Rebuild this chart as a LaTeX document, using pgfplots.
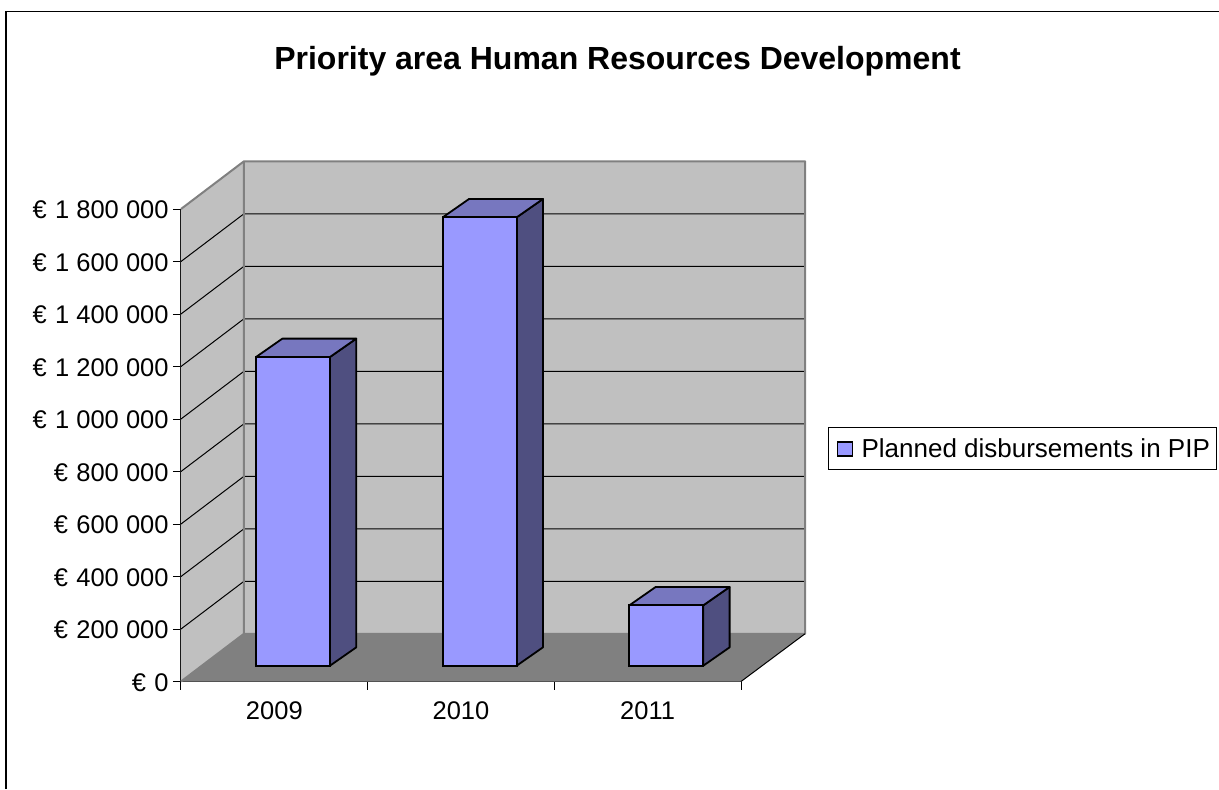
\documentclass[border=0pt]{standalone}
\usepackage{fontspec}
\setmainfont{Liberation Sans}
\usepackage{pgfplots}
\pgfplotsset{compat=1.18}
\definecolor{wallgray}{HTML}{C0C0C0}
\definecolor{floorgray}{HTML}{808080}
\definecolor{barfront}{HTML}{9999FF}
\definecolor{bartop}{HTML}{7777BF}
\definecolor{barside}{HTML}{4F4F80}
\newcommand{\lab}{\fontsize{12.75}{15}\selectfont}
\begin{document}
\begin{tikzpicture}
% 1 px of the reference = 0.5pt, origin = front corner of the chart floor
\path[use as bounding box] (-90.5pt,-53.75pt) rectangle (519pt,340.75pt);
\draw[black,line width=0.7pt] (-87.5pt,-53.75pt) -- (-87.5pt,335pt) -- (519pt,335pt);
\begin{axis}[
    at={(0pt,0pt)}, anchor=south west,
    scale only axis, width=280pt, height=236.25pt,
    clip=false,
    xmin=0, xmax=3, ymin=0, ymax=1800000,
    axis x line*=bottom, axis y line*=left,
    axis line style={black,line width=0.5pt,-},
    tick style={black,line width=0.5pt},
    tick align=outside, major tick length=4pt,
    xtick={0,1,2,3}, xticklabels={2009,2010,2011},
    x tick label as interval,
    ytick={0,200000,400000,600000,800000,1000000,1200000,1400000,1600000,1800000},
    yticklabels={€\kern.33em 0,€\kern.33em 200 000,€\kern.33em 400 000,€\kern.33em 600 000,€\kern.33em 800 000,€\kern.33em 1 000 000,€\kern.33em 1 200 000,€\kern.33em 1 400 000,€\kern.33em 1 600 000,€\kern.33em 1 800 000},
    scaled y ticks=false,
    tick label style={font=\lab},
    xticklabel style={yshift=-2.5pt},
    yticklabel style={inner xsep=2pt,yshift=-0.5pt},
    title={Priority area Human Resources Development},
    title style={at={(axis description cs:0.7795,1.288)},anchor=center,font=\fontsize{16}{19}\selectfont\bfseries},
    legend style={at={(axis description cs:1.1559,0.4935)},anchor=west,draw=black,line width=0.5pt,font=\fontsize{13}{15}\selectfont,inner xsep=1.5pt,inner ysep=2.5pt,legend cell align=left},
    legend image code/.code={\draw[fill=barfront,draw=black,line width=0.75pt,yshift=-7.9pt] (2.5pt,-3.5pt) rectangle (10pt,3.5pt); \path (0pt,0pt) (12pt,0pt);},
]
% walls and floor
\addplot[forget plot,fill=wallgray,draw=none] coordinates {(0,0) (0.3375,181900) (0.3375,1981900) (0,1800000) (0,0)};
\addplot[forget plot,fill=wallgray,draw=none] coordinates {(0.3375,181900) (3.343,181900) (3.343,1981900) (0.3375,1981900) (0.3375,181900)};
\addplot[forget plot,fill=floorgray,draw=none] coordinates {(0,0) (3,0) (3.343,181900) (0.3375,181900) (0,0)};
% gridlines on the side and back walls
\pgfplotsinvokeforeach{200000,400000,600000,800000,1000000,1200000,1400000,1600000}{
  \addplot[forget plot,black,line width=0.5pt] coordinates {(0,#1) (0.3375,#1+181900) (3.343,#1+181900)};
}
% wall edges
\addplot[forget plot,floorgray,line width=1pt,line join=round] coordinates {(0,1800000) (0.3375,1981900) (3.343,1981900) (3.343,181900) (0.3375,181900)};
\addplot[forget plot,floorgray,line width=1pt] coordinates {(0,0) (0.3375,181900) (0.3375,1981900)};
\addplot[forget plot,black,line width=0.5pt] coordinates {(3,0) (3.343,181900)};
% bars: side and top faces
\addplot[forget plot,fill=barside,draw=black,line width=0.9pt,line join=round,yshift=7.9pt] coordinates {(0.798,0) (0.939,70000) (0.939,1246000) (0.798,1176000) (0.798,0)};
\addplot[forget plot,fill=bartop,draw=black,line width=0.9pt,line join=round,yshift=7.9pt] coordinates {(0.402,1176000) (0.543,1246000) (0.939,1246000) (0.798,1176000) (0.402,1176000)};
\addplot[forget plot,fill=barside,draw=black,line width=0.9pt,line join=round,yshift=7.9pt] coordinates {(1.798,0) (1.939,70000) (1.939,1778000) (1.798,1708000) (1.798,0)};
\addplot[forget plot,fill=bartop,draw=black,line width=0.9pt,line join=round,yshift=7.9pt] coordinates {(1.402,1708000) (1.543,1778000) (1.939,1778000) (1.798,1708000) (1.402,1708000)};
\addplot[forget plot,fill=barside,draw=black,line width=0.9pt,line join=round,yshift=7.9pt] coordinates {(2.798,0) (2.939,70000) (2.939,300000) (2.798,230000) (2.798,0)};
\addplot[forget plot,fill=bartop,draw=black,line width=0.9pt,line join=round,yshift=7.9pt] coordinates {(2.402,230000) (2.543,300000) (2.939,300000) (2.798,230000) (2.402,230000)};
% bars: front faces
\addplot[ybar,bar width=37pt,fill=barfront,draw=black,line width=0.9pt,yshift=7.9pt] coordinates {(0.6,1176000) (1.6,1708000) (2.6,230000)};
\addlegendentry{Planned disbursements in PIP}
\end{axis}
\end{tikzpicture}
\end{document}
